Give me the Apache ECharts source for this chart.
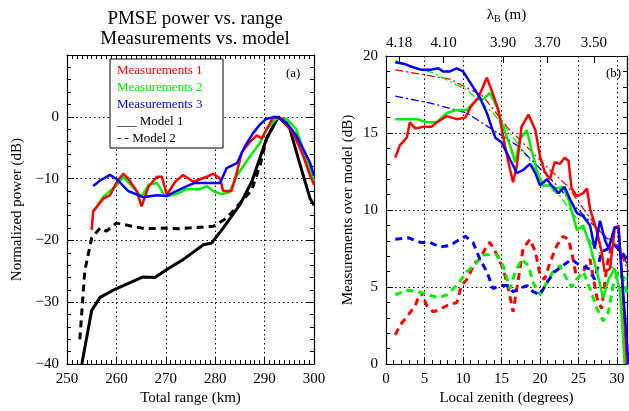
<!DOCTYPE html>
<html><head><meta charset="utf-8">
<script src="https://cdn.jsdelivr.net/npm/echarts@6/dist/echarts.min.js"></script>
<style>html,body{margin:0;padding:0;background:#fff}#c{width:629px;height:411px}</style>
</head><body><div id="c"></div>
<script>
// Panel (a): total range (km) vs normalized power (dB)
const model1 = [[253.0,-40],[255.0,-31.3],[256.7,-29.2],[259.7,-27.9],[265.4,-25.9],[267.8,-26],[270.2,-24.7],[273.5,-23.1],[277.6,-20.7],[279.3,-20.4],[281.6,-18],[285,-14.2],[287.4,-10.5],[290.4,-3.5],[292.8,0],[295.1,-1.9],[297.2,-7.8],[299.2,-13.2],[300,-14.3]];
const model2 = [[252.6,-36],[253.6,-24.9],[255,-19.6],[256.7,-18],[258,-18.5],[260,-17.2],[265.8,-18.1],[270.2,-18],[272.8,-18.1],[279.6,-17.7],[282.3,-16.4],[285,-14],[287.4,-11.8],[289.1,-7.8],[290.4,-3.5],[292.8,0]];
const meas1 = [[255,-18.3],[255.3,-15.3],[257.4,-13.2],[258.7,-12.7],[260.1,-10.5],[261.4,-9.2],[262.4,-10],[264.1,-12],[265.1,-14.5],[266.5,-11.3],[268.2,-9.7],[269.2,-9.7],[270.2,-12.6],[271.9,-10.5],[273.5,-9.4],[275.6,-10.5],[278.3,-9.7],[279.6,-9.2],[281,-10],[281.6,-12],[283.3,-12],[284.4,-8.9],[285.4,-5.7],[287,-4.1],[288.4,-3],[289.4,-3.5],[291.8,0],[293.5,-0.3],[295.8,-2.6],[297.8,-6.3],[299.2,-9.5],[300,-11]];
const meas2 = [[255.3,-15.3],[257.4,-12.9],[260.1,-11],[261.4,-9.7],[262.9,-11],[265.1,-12.9],[266.5,-11],[268.2,-10.7],[269.9,-12.9],[272.2,-12.5],[274.2,-11.7],[276.9,-11.7],[278.3,-11.2],[279.6,-12],[281.3,-12.5],[282.9,-12.2],[284.4,-9.5],[286.7,-6.8],[289.1,-4.2],[290.4,-2],[292.4,-0.3],[294.4,-0.3],[296.4,-2],[299.2,-8.5],[300,-10.5]];
const meas3 = [[255.3,-11.2],[256.7,-10.3],[258.7,-9.4],[260.1,-10.1],[262.4,-12],[265.4,-13],[268.2,-12.7],[270.2,-12.8],[273.5,-11.5],[275.8,-10.7],[278.3,-10.7],[281,-10.7],[282.3,-8.3],[284.4,-7.5],[286,-4.8],[287.7,-2.6],[289.1,-1.2],[290.4,-0.3],[292.4,0],[294.4,-0.9],[296.4,-3],[299.2,-7.4],[300,-9.5]];

// Panel (b): local zenith (deg) vs measurements over model (dB)
const redSolid = [[1.2,13.4],[1.8,14.2],[2.7,14.7],[3.1,15.7],[3.8,15.3],[4.8,15.4],[5.9,15.4],[6.6,15.7],[7.9,16.1],[9.2,15.9],[10.3,16.0],[11,16.7],[12,17.3],[12.6,18.0],[13.1,18.6],[13.7,17.8],[14.6,16.5],[15.2,14.8],[15.9,13.1],[16.5,11.8],[17,12.9],[17.6,15.4],[18.5,16.2],[19.4,15.2],[20,13.5],[20.6,12.5],[21.3,12.0],[21.9,13.1],[22.6,13.0],[23.2,13.4],[23.7,13.2],[24.1,11.4],[24.8,10.9],[25.6,11.1],[26.1,11.4],[26.5,10.1],[27.4,8.6],[28,7.3],[28.4,6.0],[29.1,6.2],[29.7,8.8],[30.2,9.0],[30.6,6.0],[31.3,0]];
const greenSolid = [[1.2,15.9],[2.9,15.9],[4,15.9],[5.3,15.7],[6.6,15.7],[7.9,16.3],[9.2,16.5],[10.5,16.5],[11.8,17.2],[12.6,17.2],[13.5,17.6],[14.4,16.7],[15.2,15.4],[16.1,14.2],[16.8,13.1],[17.4,14.6],[18.3,15.2],[18.9,13.9],[19.6,12.6],[20.2,11.6],[21.3,11.6],[22.2,11.4],[23,11.5],[23.7,10.7],[24.3,9.6],[24.8,8.7],[25.6,9.0],[26.5,7.7],[27.4,6.0],[28.2,4.3],[28.9,5.5],[29.7,6.2],[30.4,4.7],[31,0]];
const blueSolid = [[1.2,19.6],[2.3,19.5],[3.3,19.3],[4.6,19.1],[5.7,19.1],[6.8,19.2],[7.4,19.0],[8.3,19.0],[9.2,19.2],[10,19.0],[11.3,18.0],[12.2,17.3],[13.1,16.3],[13.7,15.4],[14.2,14.7],[15,14.4],[16.1,13.3],[17,12.4],[17.8,12.6],[18.7,13.0],[19.4,12.4],[20,11.6],[20.9,12.0],[21.5,11.6],[22.4,11.1],[23.2,11.5],[23.9,10.7],[24.8,9.8],[25.6,9.6],[26.5,9.0],[27.1,7.5],[27.8,9.3],[28.4,8.1],[28.9,7.5],[29.7,8.9],[30.2,8.8],[30.6,6.0],[31.5,0]];
const redDashed = [[1.2,1.9],[1.8,2.5],[2.9,3.2],[3.8,3.8],[4.5,4.7],[5.3,3.8],[6.1,3.4],[6.8,3.5],[7.9,3.8],[9.2,4.0],[9.8,5.1],[10.5,5.5],[11.6,6.6],[12.2,6.8],[13.1,7.7],[13.5,7.9],[14.4,7.1],[15.2,6.2],[15.9,4.9],[16.5,3.4],[17,4.9],[17.8,7.5],[18.7,8.1],[19.4,7.3],[20,5.8],[20.6,5.5],[21.3,6.6],[22.2,7.7],[23,8.3],[23.7,8.1],[24.1,7.3],[24.8,5.5],[25.6,6.0],[26.5,6.8],[27.4,4.3],[28,3.6],[28.7,6.4],[29.3,7.7],[30,7.7],[30.6,7.3],[31.3,6.4]];
const greenDashed = [[1.2,4.5],[2.9,4.8],[4.2,4.7],[5.5,4.5],[6.8,4.3],[7.9,4.5],[9.2,5.1],[10.5,6.0],[11.6,6.5],[12.6,7.1],[13.5,7.1],[14.4,7.1],[15.2,6.4],[16.1,4.9],[16.8,6.0],[17.6,6.8],[18.5,6.4],[19.1,5.3],[20,4.5],[20.9,5.3],[21.7,6.0],[22.6,6.4],[23.5,5.5],[24.1,5.0],[24.8,5.5],[25.6,6.0],[26.5,4.9],[27.4,3.6],[28.2,2.8],[28.9,3.4],[29.5,5.1],[30.2,6.0],[30.8,5.5],[31.5,4.3]];
const blueDashed = [[1.2,8.1],[2.9,8.2],[4.5,7.9],[5.7,7.9],[7,7.6],[8.3,7.7],[9.6,8.1],[10.3,8.3],[11.3,7.9],[12.2,6.8],[13.1,6.0],[13.9,4.9],[14.8,5.1],[15.7,5.1],[16.5,4.7],[17.4,4.9],[18.3,5.1],[19.1,4.7],[20,4.5],[20.9,5.3],[21.9,6.0],[23,6.4],[24.1,6.8],[25.2,6.4],[26.3,6.2],[27.1,5.5],[28,7.3],[28.9,7.5],[29.7,7.7],[30.6,7.3],[31.5,6.6]];
const redModel = [[1.2,19.1],[8.3,18.5],[12.6,17.4],[15.7,15.4],[19.1,13.7],[21.3,12.6],[23.5,11.6],[25.6,10.1],[27.8,8.6],[30,7.7],[31.5,6.0]];
const greenModel = [[1.2,19.7],[6.1,18.9],[10.5,17.8],[13.9,16.3],[16.1,15.0],[18.3,13.5],[20.4,11.8],[22.6,10.9],[24.8,9.4],[26.9,7.7],[29.1,6.4],[31.3,5.5]];
const blueModel = [[1.2,17.4],[6.1,16.9],[10.5,16.3],[13.9,15.2],[17,14.2],[19.6,12.9],[22.2,11.6],[24.8,10.1],[27.4,8.8],[30,7.5],[31.5,6.4]];

const lambdaPos = [1.7,7.5,15.2,21.0,27.0];
const lambdaLabels = ['4.18','4.10','3.90','3.70','3.50'];

const F = 'Liberation Serif';
const RED='#ff0000', GREEN='#00ee00', BLUE='#0000ff';
const chart = echarts.init(document.getElementById('c'));
function ax(base){return Object.assign({
  axisLine:{show:true,onZero:false,lineStyle:{color:'#000',width:1.2}},
  axisTick:{show:true,inside:true,length:7,lineStyle:{color:'#000'}},
  minorTick:{show:true,length:4,lineStyle:{color:'#000'}},
  splitLine:{show:false},
  axisLabel:{color:'#000',fontFamily:F,fontSize:15},
  nameTextStyle:{color:'#000',fontFamily:F,fontSize:15}
},base);}
const dotted={show:true,lineStyle:{color:'#000',type:[1.5,3],width:1}};
function s(data,color,xi,yi,width,type){return {type:'line',data,xAxisIndex:xi,yAxisIndex:yi,showSymbol:false,symbol:'none',lineStyle:{color,width,type:type||'solid'},z:3};}

chart.setOption({
  animation:false,
  title:[{text:'PMSE power vs. range\nMeasurements vs. model',left:190,top:4,textAlign:'center',
    textStyle:{fontFamily:F,fontSize:19,fontWeight:'normal',color:'#000',lineHeight:20}}],
  grid:[{left:67,top:55,width:247,height:311},{left:386,top:56,width:241,height:310}],
  xAxis:[
    ax({gridIndex:0,type:'value',min:250,max:300,interval:10,minorTick:{show:true,splitNumber:10,length:4},splitLine:dotted,
      name:'Total range (km)',nameLocation:'middle',nameGap:22,axisLabel:{color:'#000',fontFamily:F,fontSize:15,margin:7}}),
    ax({gridIndex:0,type:'value',position:'top',min:250,max:300,interval:10,minorTick:{show:true,splitNumber:10,length:4},axisLabel:{show:false}}),
    ax({gridIndex:1,type:'value',min:0,max:31.3,interval:5,minorTick:{show:true,splitNumber:5,length:4},splitLine:dotted,
      name:'Local zenith (degrees)',nameLocation:'middle',nameGap:22,
      axisLabel:{color:'#000',fontFamily:F,fontSize:15,margin:7,showMaxLabel:false,formatter:v=>(Math.abs(v%5)<1e-6?String(v):'')}}),
    ax({gridIndex:1,type:'value',position:'top',min:0,max:31.3,
      name:'{l|λ}{b|B}{l| (m)}',nameLocation:'middle',nameGap:32,
      nameTextStyle:{rich:{l:{fontFamily:F,fontSize:15,color:'#000'},b:{fontFamily:F,fontSize:10,color:'#000',verticalAlign:'bottom',padding:[8,0,0,0]}}},
      axisTick:{show:true,inside:true,length:7,customValues:lambdaPos,lineStyle:{color:'#000'}},
      minorTick:{show:false},
      axisLabel:{color:'#000',fontFamily:F,fontSize:15,margin:5,customValues:lambdaPos,
        formatter:v=>{const i=lambdaPos.findIndex(p=>Math.abs(p-v)<1e-6);return i>=0?lambdaLabels[i]:'';}}})
  ],
  yAxis:[
    ax({gridIndex:0,type:'value',min:-40,max:10,interval:10,minorTick:{show:true,splitNumber:5,length:4},splitLine:dotted,
      name:'Normalized power (dB)',nameLocation:'middle',nameGap:42,
      axisLabel:{color:'#000',fontFamily:F,fontSize:15,formatter:v=>v>0?'':String(v).replace('-','−')}}),
    ax({gridIndex:0,type:'value',position:'right',min:-40,max:10,interval:10,minorTick:{show:true,splitNumber:5,length:4},axisLabel:{show:false}}),
    ax({gridIndex:1,type:'value',min:0,max:20,interval:5,minorTick:{show:true,splitNumber:5,length:4},splitLine:dotted,
      name:'Measurements over model (dB)',nameLocation:'middle',nameGap:30}),
    ax({gridIndex:1,type:'value',position:'right',min:0,max:20,interval:5,minorTick:{show:true,splitNumber:5,length:4},axisLabel:{show:false}})
  ],
  series:[
    s(model2,'#000',0,0,3,[7,5]),
    s(model1,'#000',0,0,3),
    s(meas2,GREEN,0,0,2.5),
    s(meas1,RED,0,0,2.5),
    s(meas3,BLUE,0,0,2.5),
    s(redModel,RED,2,2,1.3,[8,3,2,3]),
    s(greenModel,GREEN,2,2,1.3,[8,3,2,3]),
    s(blueModel,BLUE,2,2,1.3,[8,3,2,3]),
    s(redDashed,RED,2,2,3,[7,5]),
    s(greenDashed,GREEN,2,2,3,[7,5]),
    s(blueDashed,BLUE,2,2,3,[7,5]),
    s(greenSolid,GREEN,2,2,2.5),
    s(redSolid,RED,2,2,2.5),
    s(blueSolid,BLUE,2,2,2.5)
  ],
  graphic:[
    {type:'rect',shape:{x:110,y:59,width:113,height:89},style:{fill:'#fff',stroke:'#000',lineWidth:1},z:10},
    {type:'text',x:117,y:64,style:{text:'Measurements 1',fill:RED,font:'13px "Liberation Serif"'},z:11},
    {type:'text',x:117,y:81,style:{text:'Measurements 2',fill:GREEN,font:'13px "Liberation Serif"'},z:11},
    {type:'text',x:117,y:98,style:{text:'Measurements 3',fill:BLUE,font:'13px "Liberation Serif"'},z:11},
    {type:'text',x:117,y:115,style:{text:'___ Model 1',fill:'#000',font:'13px "Liberation Serif"'},z:11},
    {type:'text',x:117,y:132,style:{text:'- - Model 2',fill:'#000',font:'13px "Liberation Serif"'},z:11},
    {type:'text',x:286,y:67,style:{text:'(a)',fill:'#000',font:'13px "Liberation Serif"'},z:11},
    {type:'text',x:606,y:67,style:{text:'(b)',fill:'#000',font:'13px "Liberation Serif"'},z:11}
  ]
});
</script></body></html>
